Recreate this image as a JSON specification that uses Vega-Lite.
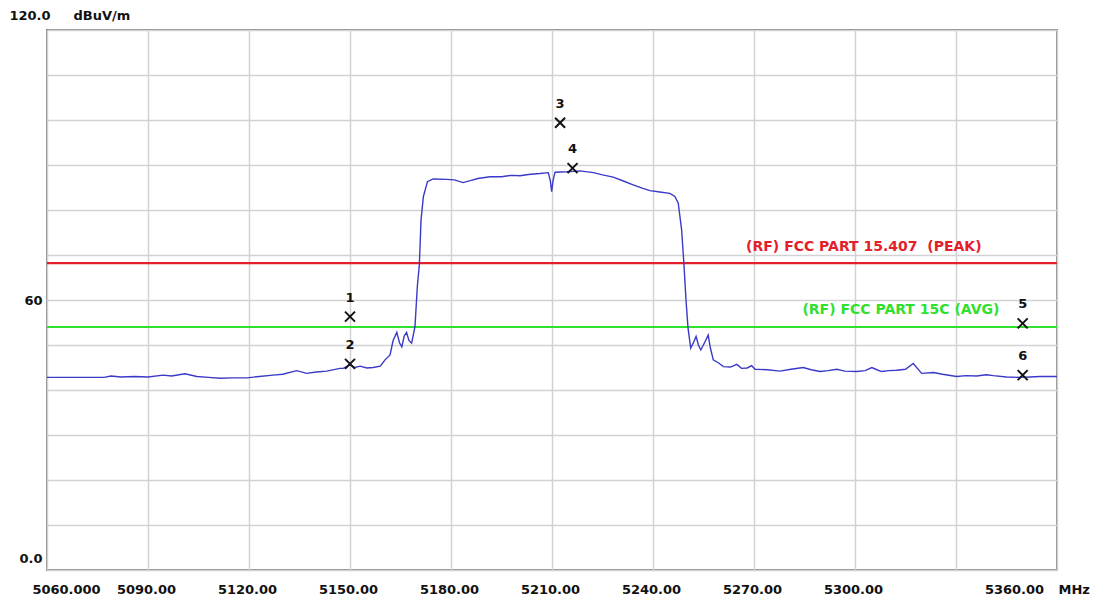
{
  "$schema": "https://vega.github.io/schema/vega-lite/v6.json",
  "width": 1010,
  "height": 540,
  "autosize": "none",
  "padding": {"left": 47, "top": 30, "right": 40, "bottom": 29},
  "background": "white",
  "config": {
    "view": {"stroke": "#8a8a8a", "strokeWidth": 2},
    "font": "DejaVu Sans"
  },
  "datasets": {
    "trace": [
      {"f": 5060, "v": 42.8}, {"f": 5065, "v": 42.8}, {"f": 5070, "v": 42.8}, {"f": 5077, "v": 42.8},
      {"f": 5079, "v": 43.1}, {"f": 5082, "v": 42.9}, {"f": 5086, "v": 43.0}, {"f": 5090, "v": 42.9},
      {"f": 5094.5, "v": 43.3}, {"f": 5097, "v": 43.1}, {"f": 5101, "v": 43.6}, {"f": 5104.5, "v": 43.0},
      {"f": 5108, "v": 42.8}, {"f": 5111.4, "v": 42.6}, {"f": 5115, "v": 42.7}, {"f": 5119.3, "v": 42.7},
      {"f": 5123, "v": 43.0}, {"f": 5127.2, "v": 43.3}, {"f": 5130, "v": 43.5}, {"f": 5134.2, "v": 44.3},
      {"f": 5137.1, "v": 43.7}, {"f": 5140, "v": 44.0}, {"f": 5143.1, "v": 44.2}, {"f": 5147, "v": 44.8},
      {"f": 5148, "v": 44.8}, {"f": 5150, "v": 45.6}, {"f": 5151.5, "v": 45.0}, {"f": 5153, "v": 45.3},
      {"f": 5155, "v": 44.9}, {"f": 5156.9, "v": 45.0}, {"f": 5159, "v": 45.3}, {"f": 5160.4, "v": 46.7},
      {"f": 5161.9, "v": 47.8}, {"f": 5162.8, "v": 51.0}, {"f": 5163.9, "v": 52.8}, {"f": 5164.7, "v": 50.5},
      {"f": 5165.4, "v": 49.6}, {"f": 5166.1, "v": 52.0}, {"f": 5166.8, "v": 52.8}, {"f": 5167.5, "v": 51.0},
      {"f": 5168.3, "v": 50.4}, {"f": 5169.3, "v": 54.1}, {"f": 5170.0, "v": 63.0}, {"f": 5170.6, "v": 67.8},
      {"f": 5171.1, "v": 77.8}, {"f": 5171.8, "v": 83.0}, {"f": 5173.0, "v": 86.3}, {"f": 5174.7, "v": 86.9},
      {"f": 5178.7, "v": 86.8}, {"f": 5181, "v": 86.7}, {"f": 5183.6, "v": 86.1}, {"f": 5186, "v": 86.6},
      {"f": 5188, "v": 87.0}, {"f": 5191.6, "v": 87.4}, {"f": 5195, "v": 87.4}, {"f": 5198, "v": 87.7},
      {"f": 5200.5, "v": 87.6}, {"f": 5203, "v": 87.9}, {"f": 5206.4, "v": 88.1}, {"f": 5208.9, "v": 88.3},
      {"f": 5209.5, "v": 86.5}, {"f": 5209.9, "v": 84.1}, {"f": 5210.3, "v": 86.5}, {"f": 5210.9, "v": 88.4},
      {"f": 5214.4, "v": 88.5}, {"f": 5218.3, "v": 88.7}, {"f": 5222.3, "v": 88.3}, {"f": 5225, "v": 87.8},
      {"f": 5228.2, "v": 87.3}, {"f": 5231, "v": 86.5}, {"f": 5234.1, "v": 85.6}, {"f": 5237, "v": 84.8},
      {"f": 5239.1, "v": 84.3}, {"f": 5242, "v": 84.0}, {"f": 5245.0, "v": 83.7}, {"f": 5246.5, "v": 83.0},
      {"f": 5247.5, "v": 81.5}, {"f": 5248.5, "v": 75.6}, {"f": 5249.2, "v": 67.8}, {"f": 5249.8, "v": 60.0},
      {"f": 5250.4, "v": 53.8}, {"f": 5251.2, "v": 49.3}, {"f": 5252.0, "v": 50.5}, {"f": 5252.8, "v": 51.9},
      {"f": 5253.5, "v": 50.0}, {"f": 5254.2, "v": 48.9}, {"f": 5255.3, "v": 50.5}, {"f": 5256.4, "v": 52.2},
      {"f": 5257.0, "v": 49.5}, {"f": 5257.9, "v": 46.7}, {"f": 5259.5, "v": 46.0}, {"f": 5260.9, "v": 45.2},
      {"f": 5263, "v": 45.1}, {"f": 5264.9, "v": 45.7}, {"f": 5266.3, "v": 44.8}, {"f": 5268, "v": 44.9},
      {"f": 5269.3, "v": 45.4}, {"f": 5270.3, "v": 44.6}, {"f": 5274, "v": 44.5}, {"f": 5277.7, "v": 44.2},
      {"f": 5281, "v": 44.6}, {"f": 5284.6, "v": 45.0}, {"f": 5287, "v": 44.5}, {"f": 5289.6, "v": 44.1},
      {"f": 5292, "v": 44.3}, {"f": 5294.6, "v": 44.6}, {"f": 5297, "v": 44.2}, {"f": 5300.5, "v": 44.1},
      {"f": 5303, "v": 44.3}, {"f": 5305.0, "v": 45.0}, {"f": 5306.5, "v": 44.5}, {"f": 5307.9, "v": 44.1},
      {"f": 5310, "v": 44.3}, {"f": 5312.4, "v": 44.4}, {"f": 5315, "v": 44.6}, {"f": 5317.3, "v": 45.9},
      {"f": 5319.8, "v": 43.7}, {"f": 5323.3, "v": 43.9}, {"f": 5326, "v": 43.5}, {"f": 5330.2, "v": 43.0},
      {"f": 5333, "v": 43.2}, {"f": 5336.1, "v": 43.1}, {"f": 5339, "v": 43.4}, {"f": 5341.1, "v": 43.2},
      {"f": 5345, "v": 42.9}, {"f": 5349.0, "v": 42.8}, {"f": 5352, "v": 42.9}, {"f": 5355, "v": 43.0},
      {"f": 5358.9, "v": 43.0}, {"f": 5360, "v": 43.0}
    ],
    "limits": [
      {"lim": "peak", "v": 68.2},
      {"lim": "avg", "v": 54.0}
    ],
    "limitLabels": [
      {"lim": "peak", "f": 5337.6, "v": 71.8, "t": "(RF) FCC PART 15.407\u00a0 (PEAK)"},
      {"lim": "avg", "f": 5342.9, "v": 57.8, "t": "(RF) FCC PART 15C (AVG)"}
    ],
    "markers": [
      {"n": "1", "f": 5150.0, "v": 56.3},
      {"n": "2", "f": 5150.0, "v": 45.8},
      {"n": "3", "f": 5212.4, "v": 99.4},
      {"n": "4", "f": 5216.1, "v": 89.3},
      {"n": "5", "f": 5349.8, "v": 54.8},
      {"n": "6", "f": 5349.8, "v": 43.3}
    ]
  },
  "layer": [
    {
      "data": {"name": "limits"},
      "mark": {"type": "rule", "strokeWidth": 2.2},
      "encoding": {
        "y": {"field": "v", "type": "quantitative", "scale": {"domain": [0, 120], "nice": false, "zero": false},
          "axis": {
            "values": [0, 10, 20, 30, 40, 50, 60, 70, 80, 90, 100, 110, 120],
            "labelExpr": "datum.value == 0 ? '0.0' : datum.value == 60 ? '60' : datum.value == 120 ? '120.0' : ''",
            "grid": true, "gridColor": "#d2d2d2", "gridWidth": 1.5,
            "domain": false, "ticks": false,
            "labelFont": "DejaVu Sans", "labelFontWeight": "bold", "labelFontSize": 13, "labelColor": "#111111",
            "labelPadding": {"condition": {"test": "datum.value == 120", "value": -3}, "value": 5},
            "labelOffset": {"condition": [{"test": "datum.value == 120", "value": -15}, {"test": "datum.value == 0", "value": -12}], "value": 0},
            "labelFlush": false, "labelOverlap": false,
            "title": "dBuV/m", "titleAngle": 0, "titleX": 26, "titleY": -15,
            "titleAlign": "left", "titleBaseline": "middle",
            "titleFont": "DejaVu Sans", "titleFontWeight": "bold", "titleFontSize": 13, "titleColor": "#111111"
          }
        },
        "color": {"field": "lim", "type": "nominal", "scale": {"domain": ["peak", "avg"], "range": ["#e3202a", "#2fe02f"]}, "legend": null}
      }
    },
    {
      "data": {"name": "trace"},
      "mark": {"type": "line", "color": "#3a3ac8", "strokeWidth": 1.4, "interpolate": "linear"},
      "encoding": {
        "x": {"field": "f", "type": "quantitative", "scale": {"domain": [5060, 5360], "nice": false, "zero": false},
          "axis": {
            "values": [5060, 5090, 5120, 5150, 5180, 5210, 5240, 5270, 5300, 5330, 5360],
            "labelExpr": "datum.value == 5060 ? '5060.000' : datum.value == 5330 ? '' : format(datum.value, '.2f')",
            "grid": true, "gridColor": "#d2d2d2", "gridWidth": 1.5,
            "domain": false, "ticks": false,
            "labelFont": "DejaVu Sans", "labelFontWeight": "bold", "labelFontSize": 13, "labelColor": "#111111",
            "labelPadding": 13,
            "labelOffset": {"condition": [{"test": "datum.value == 5060", "value": 19}, {"test": "datum.value == 5360", "value": -43}], "value": -2},
            "labelFlush": false, "labelOverlap": false,
            "title": "MHz", "titleX": 1011, "titleY": 13, "titleAlign": "left", "titleBaseline": "top",
            "titleFont": "DejaVu Sans", "titleFontWeight": "bold", "titleFontSize": 13, "titleColor": "#111111"
          }
        },
        "y": {"field": "v", "type": "quantitative"}
      }
    },
    {
      "data": {"name": "limitLabels"},
      "mark": {"type": "text", "align": "right", "baseline": "middle", "font": "DejaVu Sans", "fontWeight": "bold", "fontSize": 14},
      "encoding": {
        "x": {"field": "f", "type": "quantitative"},
        "y": {"field": "v", "type": "quantitative"},
        "text": {"field": "t"},
        "color": {"field": "lim", "type": "nominal", "legend": null}
      }
    },
    {
      "data": {"name": "markers"},
      "mark": {"type": "point", "shape": "M-1,-1L1,1M-1,1L1,-1", "filled": false, "stroke": "#111111", "strokeWidth": 2, "size": 100, "opacity": 1},
      "encoding": {
        "x": {"field": "f", "type": "quantitative"},
        "y": {"field": "v", "type": "quantitative"}
      }
    },
    {
      "data": {"name": "markers"},
      "mark": {"type": "text", "align": "center", "baseline": "middle", "dy": -19, "font": "DejaVu Sans", "fontWeight": "bold", "fontSize": 13, "color": "#111111"},
      "encoding": {
        "x": {"field": "f", "type": "quantitative"},
        "y": {"field": "v", "type": "quantitative"},
        "text": {"field": "n"}
      }
    }
  ]
}
